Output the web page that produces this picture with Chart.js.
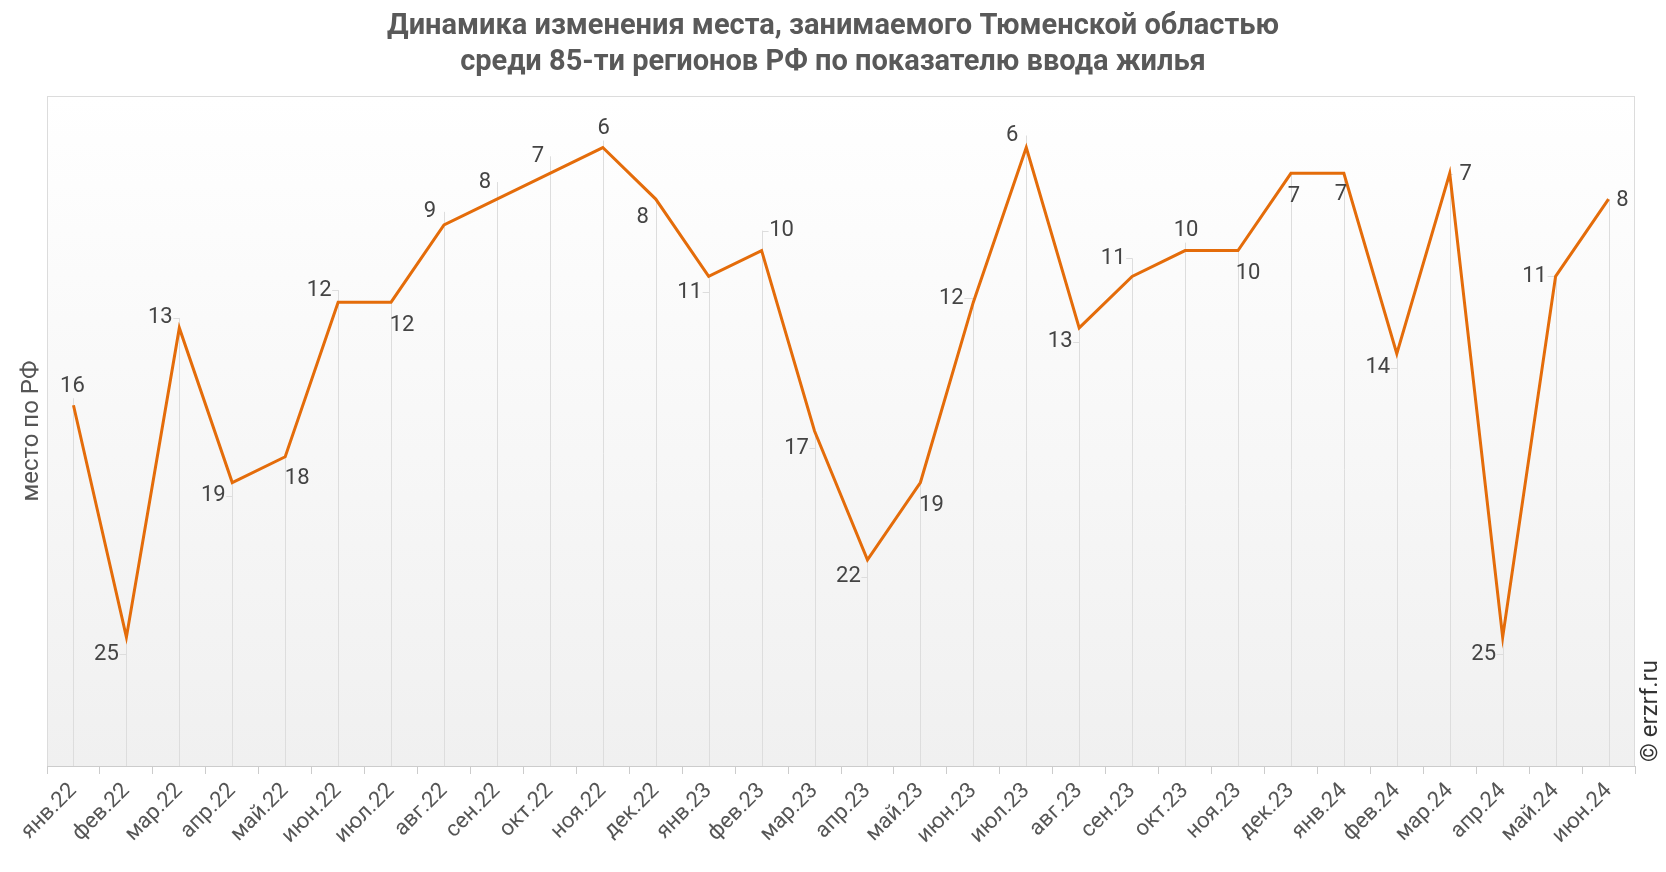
<!DOCTYPE html>
<html>
<head>
<meta charset="utf-8">
<script src="https://cdn.jsdelivr.net/npm/chart.js@4/dist/chart.umd.min.js"></script>
<style>
  html, body { margin: 0; padding: 0; background: #fff; }
  #wrap { width: 1666px; height: 872px; position: relative; }
</style>
</head>
<body>
<div id="wrap"><canvas id="chart"></canvas></div>
<script>
const months = ['янв.22', 'фев.22', 'мар.22', 'апр.22', 'май.22', 'июн.22', 'июл.22', 'авг.22', 'сен.22', 'окт.22',
  'ноя.22', 'дек.22', 'янв.23', 'фев.23', 'мар.23', 'апр.23', 'май.23', 'июн.23', 'июл.23', 'авг.23',
  'сен.23', 'окт.23', 'ноя.23', 'дек.23', 'янв.24', 'фев.24', 'мар.24', 'апр.24', 'май.24', 'июн.24'];
const ranks = [16, 25, 13, 19, 18, 12, 12, 9, 8, 7, 6, 8, 11, 10, 17, 22, 19, 12, 6, 13, 11, 10, 10, 7, 7, 14, 7, 25, 11, 8];
const titleLines = ['Динамика изменения места, занимаемого Тюменской областью', 'среди 85-ти регионов РФ по показателю ввода жилья'];
const yTitle = 'место по РФ';

// where each value label sits relative to its point (px)
const labelShift = [[-1, -19], [-20, 17], [-19, -10], [-19, 13], [12, 22], [-19, -12], [11, 23], [-14, -13], [-12, -17], [-12, -17],
  [1, -19], [-13, 18], [-19, 16], [20, -20], [-18, 17], [-19, 17], [11, 23], [-22, -4], [-14, -12], [-19, 14],
  [-19, -18], [1, -20], [10, 23], [3, 23], [-3, 21], [-19, 14], [16, 1], [-19, 17], [-21, 0], [14, 1]];

const areaBg = {
  id: 'areaBg',
  beforeDraw(chart) {
    const { ctx, chartArea: a } = chart;
    const g = ctx.createLinearGradient(0, a.top, 0, a.bottom);
    g.addColorStop(0, '#ffffff');
    g.addColorStop(1, '#f0f0f0');
    ctx.save();
    ctx.fillStyle = g;
    ctx.fillRect(a.left, a.top, a.right - a.left, a.bottom - a.top);
    ctx.strokeStyle = '#dcdcdc';
    ctx.lineWidth = 1;
    ctx.strokeRect(a.left + 0.5, a.top + 0.5, a.right - a.left - 1, a.bottom - a.top);
    ctx.restore();
  }
};

const dropLines = {
  id: 'dropLines',
  beforeDatasetsDraw(chart) {
    const { ctx, chartArea: a } = chart;
    const pts = chart.getDatasetMeta(0).data;
    ctx.save();
    ctx.strokeStyle = '#dddddd';
    ctx.lineWidth = 1;
    pts.forEach((p, i) => {
      const [dx, dy] = labelShift[i];
      const x = Math.round(p.x) + 0.5;
      const ly = p.y + dy;
      const top = Math.min(p.y, ly + (Math.abs(dx) < 5 ? 12 : 0));
      ctx.beginPath();
      ctx.moveTo(x, top);
      ctx.lineTo(x, a.bottom);
      if (Math.abs(dx) > 14) {
        const edge = p.x + dx + (dx < 0 ? 13 : -13);
        ctx.moveTo(edge, Math.round(ly) + 0.5);
        ctx.lineTo(x, Math.round(ly) + 0.5);
      }
      ctx.stroke();
    });
    ctx.restore();
  }
};

const valueLabels = {
  id: 'valueLabels',
  afterDatasetsDraw(chart) {
    const { ctx } = chart;
    const pts = chart.getDatasetMeta(0).data;
    ctx.save();
    ctx.font = '22px Roboto';
    ctx.fillStyle = '#444444';
    ctx.textAlign = 'center';
    ctx.textBaseline = 'middle';
    pts.forEach((p, i) => {
      const [dx, dy] = labelShift[i];
      ctx.fillText(String(ranks[i]), p.x + dx, p.y + dy);
    });
    ctx.restore();
  }
};

// title centred on the whole canvas, not on the plot
const pageTitle = {
  id: 'pageTitle',
  afterDraw(chart) {
    const { ctx, width } = chart;
    ctx.save();
    ctx.font = 'bold 29px Roboto';
    ctx.fillStyle = '#595959';
    ctx.textAlign = 'center';
    ctx.textBaseline = 'middle';
    ctx.fillText(titleLines[0], width / 2, 27);
    ctx.fillText(titleLines[1], width / 2, 63);
    ctx.restore();
  }
};

const watermark = {
  id: 'watermark',
  afterDraw(chart) {
    const { ctx } = chart;
    ctx.save();
    ctx.translate(1651, 711);
    ctx.rotate(-Math.PI / 2);
    ctx.font = '24px Roboto';
    ctx.fillStyle = '#333333';
    ctx.textAlign = 'center';
    ctx.textBaseline = 'middle';
    ctx.fillText('© erzrf.ru', 0, 0);
    ctx.restore();
  }
};

new Chart(document.getElementById('chart'), {
  type: 'line',
  data: {
    labels: months,
    datasets: [{
      data: ranks,
      borderColor: '#e46c0a',
      borderWidth: 3,
      pointRadius: 0,
      tension: 0,
      fill: false
    }]
  },
  options: {
    responsive: true,
    maintainAspectRatio: false,
    animation: false,
    layout: { padding: { left: 0, right: 31, top: 96, bottom: 0 } },
    plugins: {
      legend: { display: false },
      tooltip: { enabled: false },
      title: { display: false }
    },
    scales: {
      x: {
        offset: true,
        grid: { display: true, drawOnChartArea: false, offset: true, color: '#cccccc', tickLength: 8 },
        border: { color: '#cccccc' },
        ticks: { color: '#555555', font: { family: 'Roboto', size: 22 }, minRotation: 45, maxRotation: 45, padding: 4 },
        afterFit: s => { s.height = 106; }
      },
      y: {
        reverse: true,
        min: 4,
        max: 30,
        grid: { display: false },
        border: { display: false },
        ticks: { display: false },
        title: { display: true, text: yTitle, color: '#555555', font: { family: 'Roboto', size: 24 }, padding: { top: 18, bottom: 0 } },
        afterFit: s => { s.width = 47; }
      }
    }
  },
  plugins: [areaBg, dropLines, valueLabels, pageTitle, watermark]
});
</script>
</body>
</html>
